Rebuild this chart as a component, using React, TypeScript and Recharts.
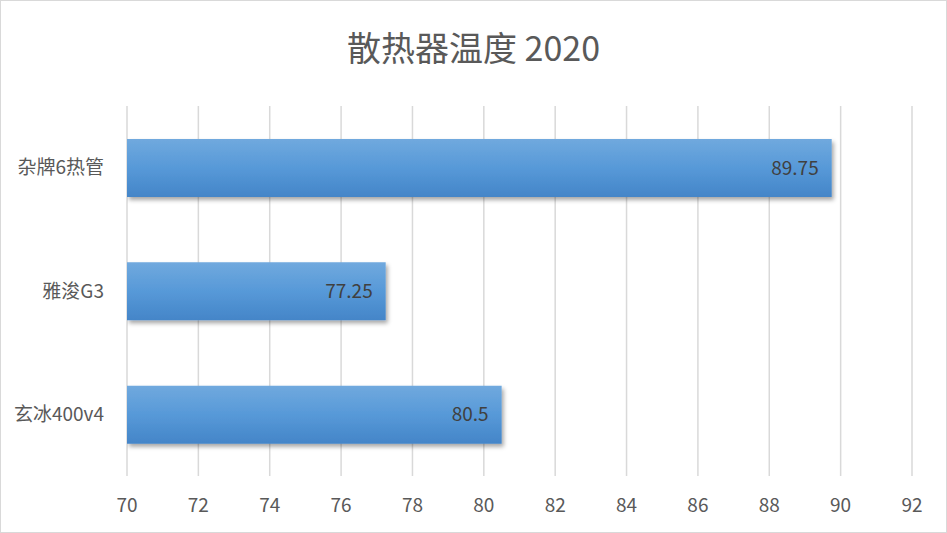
import React from "react";
import { BarChart, Bar, XAxis, YAxis, CartesianGrid, LabelList } from "recharts";

const categories = ["杂牌6热管", "雅浚G3", "玄冰400v4"];
const temperatures = [89.75, 77.25, 80.5];
const xTicks = [70, 72, 74, 76, 78, 80, 82, 84, 86, 88, 90, 92];
const title = "散热器温度 2020";

const data = categories.map((name, i) => ({ name, value: temperatures[i] }));

const FONT = '"Noto Sans CJK SC", "Noto Sans", sans-serif';

export default function App() {
  return (
    <div style={{ position: "absolute", left: 0, top: 0, width: 947, height: 533, background: "#fff", fontFamily: FONT }}>
      <div
        style={{
          position: "absolute",
          left: 0,
          top: 0,
          width: 947,
          height: 533,
          boxSizing: "border-box",
          border: "1.5px solid #d9d9d9",
          pointerEvents: "none",
          zIndex: 2,
        }}
      />
      <div
        style={{
          position: "absolute",
          left: 0,
          top: 25,
          width: 947,
          textAlign: "center",
          fontSize: 34,
          lineHeight: "44px",
          color: "#595959",
          fontFamily: FONT,
        }}
      >
        {title}
      </div>
      <BarChart
        width={947}
        height={533}
        data={data}
        layout="vertical"
        margin={{ top: 106, right: 35, bottom: 0, left: 0 }}
      >
        <defs>
          <linearGradient id="barGrad" x1="0" y1="0" x2="0" y2="1">
            <stop offset="0%" stopColor="#70a9de" />
            <stop offset="50%" stopColor="#5799d8" />
            <stop offset="100%" stopColor="#4485c8" />
          </linearGradient>
          <filter id="barShadow" x="-5%" y="-20%" width="110%" height="150%">
            <feDropShadow dx="2" dy="3" stdDeviation="2" floodColor="#000" floodOpacity="0.35" />
          </filter>
        </defs>
        <CartesianGrid horizontal={false} stroke="#d9d9d9" strokeWidth={1.5} />
        <XAxis
          type="number"
          domain={[70, 92]}
          ticks={xTicks}
          allowDataOverflow
          axisLine={false}
          tickLine={false}
          tickSize={0}
          tickMargin={23}
          height={57}
          tick={{ fill: "#595959", fontSize: 19, fontFamily: FONT }}
        />
        <YAxis
          type="category"
          dataKey="name"
          width={127}
          axisLine={false}
          tickLine={false}
          tickSize={0}
          tickMargin={23}
          tick={{ fill: "#595959", fontSize: 19, fontFamily: FONT }}
        />
        <Bar
          dataKey="value"
          barSize={58}
          fill="url(#barGrad)"
          filter="url(#barShadow)"
          isAnimationActive={false}
        >
          <LabelList
            dataKey="value"
            position="insideRight"
            offset={13}
            fill="#404040"
            fontSize={19}
            fontFamily={FONT}
          />
        </Bar>
      </BarChart>
    </div>
  );
}
